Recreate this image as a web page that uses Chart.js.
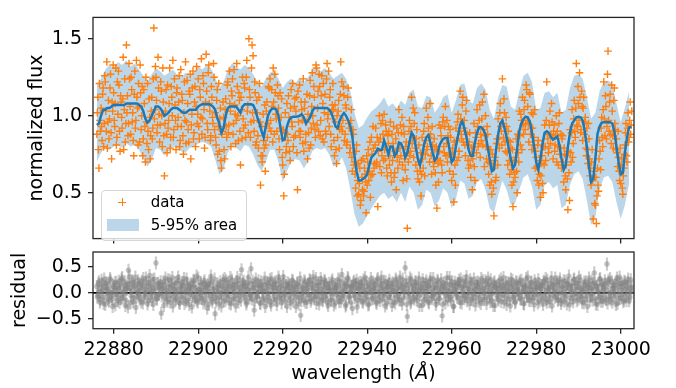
<!DOCTYPE html>
<html><head><meta charset="utf-8">
<script src="https://cdn.jsdelivr.net/npm/chart.js@4.4.0/dist/chart.umd.min.js"></script>
<style>
html,body{margin:0;padding:0;background:#fff;}
#wrap{position:relative;width:676px;height:388px;overflow:hidden;font-family:'DejaVu Sans';}
canvas{position:absolute;left:0;top:0;}
.lg{position:absolute;z-index:5;}
.txt{position:absolute;z-index:5;font-size:19px;line-height:22px;color:#000;white-space:nowrap;}
.ltxt{position:absolute;z-index:5;font-size:15px;line-height:18px;color:#000;white-space:nowrap;}
</style>
</head><body>
<div id="wrap">
<canvas id="top" width="676" height="256"></canvas>
<canvas id="bot" width="676" height="388"></canvas>
<div class="lg" style="left:100.5px;top:190px;width:146px;height:51px;box-sizing:border-box;border:1px solid #d6d6d6;border-radius:4px;background:rgba(255,255,255,0.8);"></div>
<div class="lg" style="left:118.3px;top:201.6px;width:8px;height:1.4px;background:#ff7f0e;"></div>
<div class="lg" style="left:121.6px;top:198.3px;width:1.4px;height:8px;background:#ff7f0e;"></div>
<div class="lg" style="left:106.7px;top:219.3px;width:32.3px;height:11.4px;background:rgba(31,119,180,0.3);"></div>
<div class="ltxt" style="left:150.7px;top:193px;">data</div>
<div class="ltxt" style="left:150.7px;top:216px;">5-95% area</div>
<div class="txt" style="left:93px;width:541px;text-align:center;top:361px;">wavelength (<i>Å</i>)</div>
</div>
<script>
// ---- data ----
const xMin = 22875.1, xMax = 23003.15;
const fluxMin = 0.2024, fluxMax = 1.639;
const resMin = -0.685, resMax = 0.78;
const wavelengthTicks = [22880, 22900, 22920, 22940, 22960, 22980, 23000];
const fluxTicks = [0.5, 1.0, 1.5];
const residualTicks = [-0.5, 0.0, 0.5];

const medianStart = 22876.0, medianStep = 0.5;
const medianFlux = [
0.94,0.95,1.00,1.04,1.04,1.05,1.05,1.06,1.07,1.07,
1.07,1.07,1.07,1.07,1.08,1.08,1.08,1.08,1.08,1.08,
1.07,1.06,1.03,0.98,0.955,0.97,1.00,1.03,1.06,1.06,
1.05,1.03,1.00,1.01,1.02,1.04,1.05,1.05,1.05,1.04,
1.03,1.02,1.02,1.03,1.04,1.04,1.04,1.04,1.06,1.07,
1.075,1.075,1.075,1.075,1.07,1.06,1.04,0.99,0.95,0.89,
0.92,1.00,1.05,1.06,1.06,1.06,1.06,1.04,1.02,1.06,
1.075,1.075,1.075,1.075,1.07,1.04,0.99,0.95,0.90,0.86,
0.93,1.00,1.03,1.048,1.048,1.04,1.00,0.92,0.84,0.85,
0.93,0.97,0.99,0.994,0.994,0.995,1.00,1.01,0.99,0.95,
0.97,0.99,1.03,1.05,1.05,1.05,1.05,1.05,1.05,1.05,
1.04,1.02,0.98,0.93,0.92,0.97,1.00,1.018,1.00,0.97,
0.935,0.86,0.74,0.64,0.58,0.58,0.59,0.60,0.62,0.68,
0.73,0.745,0.76,0.785,0.78,0.78,0.84,0.80,0.75,0.80,
0.80,0.74,0.76,0.826,0.82,0.79,0.73,0.76,0.83,0.89,
0.87,0.80,0.72,0.68,0.74,0.82,0.86,0.875,0.82,0.76,
0.71,0.73,0.80,0.83,0.85,0.855,0.855,0.78,0.70,0.72,
0.80,0.87,0.94,0.964,0.92,0.86,0.78,0.74,0.74,0.83,
0.89,0.925,0.925,0.91,0.88,0.80,0.72,0.64,0.65,0.78,
0.88,0.95,0.97,0.92,0.86,0.79,0.72,0.66,0.68,0.79,
0.90,0.95,0.98,0.994,0.99,0.96,0.89,0.80,0.70,0.65,
0.72,0.82,0.89,0.90,0.89,0.86,0.845,0.855,0.865,0.81,
0.72,0.65,0.68,0.80,0.89,0.95,0.97,0.99,0.994,0.99,
0.97,0.90,0.80,0.67,0.57,0.59,0.72,0.88,0.93,0.955,
0.958,0.958,0.958,0.958,0.95,0.90,0.80,0.70,0.62,0.63,
0.76,0.86,0.925,0.93];

const bandStart = 22876, bandStep = 1;
const bandUpper = [
1.20,1.24,1.30,1.33,1.31,1.35,1.33,1.36,1.32,1.34,
1.30,1.26,1.22,1.27,1.31,1.29,1.26,1.28,1.30,1.27,
1.25,1.28,1.26,1.29,1.32,1.30,1.33,1.31,1.25,1.18,
1.22,1.30,1.34,1.32,1.30,1.33,1.31,1.27,1.22,1.19,
1.24,1.28,1.29,1.24,1.18,1.22,1.24,1.21,1.25,1.22,
1.25,1.30,1.32,1.29,1.31,1.28,1.24,1.26,1.28,1.24,
1.16,1.02,0.92,0.94,0.99,1.03,1.05,1.08,1.12,1.06,
1.08,1.05,1.10,1.07,1.15,1.17,1.06,1.05,1.13,1.12,
1.02,1.06,1.12,1.14,1.02,1.10,1.20,1.21,1.10,1.08,
1.18,1.21,1.17,1.04,0.98,1.12,1.20,1.19,1.06,1.04,
1.16,1.26,1.28,1.22,1.04,1.05,1.15,1.16,1.12,1.15,
1.02,1.04,1.18,1.26,1.27,1.24,1.12,0.98,1.02,1.16,
1.22,1.23,1.21,1.08,0.96,1.05,1.16];
const bandLower = [
0.70,0.76,0.79,0.78,0.80,0.81,0.79,0.82,0.80,0.81,
0.78,0.72,0.67,0.71,0.79,0.78,0.74,0.77,0.80,0.79,
0.77,0.76,0.79,0.80,0.82,0.83,0.82,0.80,0.72,0.62,
0.65,0.76,0.80,0.79,0.77,0.81,0.80,0.75,0.68,0.64,
0.70,0.78,0.78,0.70,0.57,0.64,0.70,0.72,0.71,0.66,
0.70,0.77,0.79,0.78,0.79,0.75,0.67,0.68,0.73,0.66,
0.52,0.36,0.28,0.30,0.35,0.40,0.44,0.48,0.50,0.46,
0.48,0.44,0.50,0.44,0.54,0.50,0.39,0.42,0.52,0.50,
0.41,0.45,0.53,0.50,0.40,0.46,0.58,0.56,0.46,0.48,
0.57,0.59,0.52,0.40,0.37,0.48,0.58,0.52,0.42,0.43,
0.52,0.60,0.62,0.54,0.39,0.42,0.55,0.57,0.53,0.55,
0.40,0.42,0.55,0.62,0.64,0.59,0.45,0.29,0.34,0.52,
0.60,0.61,0.57,0.44,0.33,0.42,0.56];

// observed flux, two interleaved sets of samples (0.25 Å apart, offset by 0.125 Å)
const dataStart = 22876.0, dataStart2 = 22876.125, dataStep = 0.25;
const dataFlux = [
0.88,1.12,0.66,0.97, 1.05,0.84,1.18,0.95, 1.22,0.90,0.79,1.10, 0.98,1.27,0.72,1.03, 1.15,0.93,1.31,0.86,
1.01,1.20,0.77,1.09, 0.92,1.38,1.04,0.83, 1.46,1.13,0.95,1.24, 0.88,1.17,1.02,0.74, 1.29,0.97,1.12,0.81,
1.06,1.33,0.91,1.19, 0.85,1.08,0.70,0.96, 1.21,0.78,0.99,0.87, 1.12,0.92,1.57,1.04, 1.25,0.89,1.38,1.01,
0.94,1.16,0.80,1.09, 0.61,1.03,0.88,1.20, 0.97,1.31,0.86,1.12, 1.36,0.91,1.07,0.78, 1.18,0.99,1.26,0.84,
0.93,1.10,0.75,1.22, 1.35,0.96,1.08,0.83, 1.14,0.72,1.01,1.29, 0.89,1.19,1.06,0.95, 1.24,0.85,1.12,1.37,
0.98,1.21,0.79,1.09, 1.16,0.91,1.33,1.03, 0.87,1.12,0.95,1.25, 1.02,0.81,1.17,0.93, 0.77,1.05,0.66,0.90,
0.99,0.72,1.11,0.86, 1.22,0.94,1.08,0.80, 1.13,0.88,1.30,1.01, 0.97,1.19,0.84,1.10, 0.68,1.04,1.25,0.92,
1.18,0.86,1.36,1.07, 1.50,1.12,0.96,1.46, 1.39,0.90,1.15,0.83, 1.02,0.79,1.21,0.55, 0.93,0.74,0.84,1.07,
0.81,1.09,0.95,1.18, 1.24,0.90,1.06,1.31, 0.88,1.15,0.98,1.20, 1.05,0.78,0.92,1.11, 0.68,0.48,0.89,0.76,
1.08,0.84,0.99,0.71, 1.17,0.93,0.80,1.06, 0.87,1.12,0.52,0.96, 1.20,0.90,1.04,0.82, 0.77,1.09,0.88,1.14,
1.01,0.79,1.23,0.92, 1.28,0.95,1.12,0.86, 1.31,1.05,0.90,1.19, 0.97,1.26,1.08,0.83, 1.14,0.88,1.34,1.01,
0.93,1.17,0.80,1.07, 1.04,0.74,0.96,0.69, 0.86,1.10,0.91,1.35, 1.22,0.97,1.13,0.88, 1.05,0.83,1.18,0.92,
0.79,1.04,0.64,0.88, 0.70,0.53,0.81,0.58, 0.49,0.66,0.45,0.60, 0.72,0.51,0.62,0.37, 0.55,0.78,0.64,0.47,
0.86,0.62,0.79,0.69, 0.92,0.70,0.41,0.83, 0.67,0.95,0.74,0.88, 1.01,0.72,0.90,0.61, 0.82,0.68,0.96,0.57,
0.71,0.93,0.63,0.85, 0.92,0.66,1.04,0.79, 0.74,0.99,0.58,0.88, 0.65,0.83,0.27,0.70, 0.97,0.77,1.12,0.86,
0.73,1.02,0.68,0.91, 0.59,0.81,0.64,0.48, 0.86,0.66,0.95,0.75, 1.05,0.80,0.92,0.70, 0.88,0.62,0.81,0.67,
0.78,0.55,0.40,0.69, 0.94,0.71,0.87,0.63, 0.99,0.76,1.06,0.82, 0.70,0.93,0.64,0.86, 0.58,0.79,0.44,0.68,
0.92,0.71,1.01,0.77, 1.16,0.88,1.07,0.83, 0.97,0.74,1.10,0.81, 0.66,0.89,0.60,0.79, 0.72,0.95,0.58,0.86,
1.04,0.80,0.97,0.73, 0.84,1.09,0.91,0.67, 1.00,0.72,0.88,0.62, 0.55,0.78,0.49,0.66, 0.35,0.73,0.60,0.85,
0.98,0.79,1.08,0.90, 1.24,0.86,1.02,0.77, 0.93,0.68,0.84,0.62, 0.79,0.55,0.41,0.71, 0.60,0.85,0.50,0.76,
1.03,0.81,0.97,1.12, 0.88,1.10,0.95,1.17, 1.06,0.83,1.14,0.92, 0.78,1.01,0.86,0.66, 0.73,0.58,0.84,0.62,
0.47,0.69,0.56,0.80, 0.94,0.71,1.22,0.85, 0.79,1.03,0.88,0.96, 0.72,0.94,0.81,1.00, 0.90,0.68,1.02,0.79,
0.66,0.87,0.57,0.75, 0.52,0.74,0.39,0.63, 0.91,0.70,1.04,0.82, 1.10,0.86,1.34,0.93, 1.08,1.28,0.89,1.16,
0.84,1.12,0.96,0.79, 0.92,0.69,0.85,0.61, 0.55,0.78,0.33,0.60, 0.42,0.30,0.66,0.51, 0.84,0.65,0.99,0.80,
1.22,0.87,1.06,0.93, 1.42,0.90,1.14,0.82, 1.03,0.79,1.18,0.91, 0.85,0.67,0.73,0.58, 0.56,0.72,0.49,0.66,
0.81,0.95,0.70,1.02, 0.86,1.09,0.94];
const dataFlux2 = [
1.02,0.78,1.21,0.90, 0.93,1.14,0.80,1.26, 1.03,1.35,0.96,0.85, 1.18,0.89,1.09,1.33, 0.97,1.08,0.81,1.22,
1.29,0.90,1.13,0.99, 1.11,0.78,1.24,0.95, 1.02,0.87,1.34,1.06, 1.25,0.96,0.84,1.14, 0.92,1.36,1.05,1.21,
0.83,1.15,1.00,0.74, 1.17,0.93,1.25,0.82, 0.90,1.11,0.72,1.03, 0.85,1.24,0.98,1.32, 1.10,0.94,1.18,0.83,
1.22,1.00,1.31,0.87, 0.95,1.17,0.76,0.92, 1.08,0.79,1.19,1.00, 0.86,1.24,0.97,1.15, 0.93,1.09,0.80,1.30,
1.14,0.87,1.02,0.97, 0.82,1.23,0.91,1.16, 1.27,0.94,1.18,0.85, 1.09,0.80,1.32,1.01, 0.93,1.17,0.99,0.88,
1.26,1.04,0.86,1.40, 0.95,1.28,1.08,0.84, 1.19,0.99,1.34,0.91, 0.86,1.10,0.75,1.21, 0.98,0.71,0.88,1.09,
0.78,1.04,0.93,1.20, 0.89,1.29,1.03,1.16, 1.24,0.95,1.07,0.82, 1.34,1.00,1.15,0.90, 1.12,0.85,0.98,1.21,
0.94,1.25,1.03,0.89, 1.17,0.86,1.31,1.02, 0.97,1.22,0.81,1.10, 0.87,1.12,0.96,0.74, 0.70,1.01,0.79,0.64,
1.03,0.86,1.19,0.92, 0.97,1.17,0.83,1.09, 1.27,1.01,0.90,1.13, 0.85,1.15,0.99,0.73, 0.91,0.62,1.02,0.80,
0.88,1.13,0.77,1.05, 0.96,1.21,0.86,1.11, 1.03,0.76,1.16,0.90, 0.86,1.09,0.97,1.24, 1.05,0.83,0.96,0.72,
0.89,1.13,0.81,1.06, 1.00,1.19,0.91,1.33, 0.94,1.16,1.27,0.87, 1.13,0.85,1.21,1.02, 0.90,1.24,0.98,1.29,
1.12,0.88,1.03,1.21, 0.84,1.07,0.78,1.00, 1.03,0.79,1.14,0.93, 0.90,1.19,0.84,1.07, 0.81,1.12,0.95,0.76,
0.97,0.73,0.91,0.68, 0.62,0.77,0.48,0.69, 0.56,0.42,0.71,0.52, 0.48,0.66,0.57,0.74, 0.70,0.58,0.83,0.61,
0.75,0.93,0.66,0.81, 0.68,0.86,0.77,1.00, 0.85,0.63,0.97,0.71, 0.78,0.94,0.66,0.87, 0.90,0.74,0.63,0.88,
0.82,0.60,0.77,0.52, 0.73,0.89,0.70,0.94, 0.89,0.68,0.93,0.72, 0.80,0.59,0.76,0.90, 0.74,0.93,0.82,1.05,
0.95,0.79,0.85,0.64, 0.70,0.57,0.76,0.62, 0.72,0.90,0.61,0.84, 0.78,0.99,0.86,1.08, 0.74,0.93,0.70,0.85,
0.63,0.80,0.72,0.57, 0.77,0.92,0.68,0.96, 0.80,0.93,0.74,0.97, 0.87,0.75,0.91,0.73, 0.76,0.62,0.83,0.55,
0.84,0.96,0.73,0.90, 0.98,0.85,1.12,0.92, 0.81,1.03,0.88,0.71, 0.83,0.68,0.74,0.52, 0.80,0.67,0.89,0.76,
0.93,0.82,1.07,0.88, 0.98,0.81,1.14,0.87, 0.80,0.93,0.70,0.78, 0.69,0.57,0.75,0.53, 0.71,0.58,0.82,0.68,
0.85,1.02,0.93,0.81, 0.95,1.11,0.83,0.99, 0.76,0.90,0.71,0.83, 0.65,0.78,0.57,0.63, 0.73,0.64,0.88,0.70,
0.87,1.01,0.78,0.94, 1.04,0.91,1.20,0.97, 0.95,1.15,0.88,1.02, 0.92,0.81,1.04,0.77, 0.67,0.81,0.55,0.71,
0.61,0.74,0.50,0.68, 0.80,0.97,0.88,0.76, 0.94,0.82,1.08,0.86, 0.90,0.77,0.87,0.70, 0.80,0.95,0.75,0.88,
0.85,0.70,0.79,0.61, 0.68,0.59,0.77,0.45, 0.76,0.89,0.73,0.98, 0.90,1.05,0.94,1.19, 0.97,1.12,0.91,1.06,
1.05,0.88,0.99,0.74, 0.78,0.95,0.72,0.66, 0.70,0.58,0.64,0.43, 0.60,0.48,0.55,0.72, 0.77,0.92,0.86,1.04,
0.98,1.13,0.85,1.27, 0.97,1.09,0.88,1.20, 0.87,1.10,0.95,0.78, 0.76,0.90,0.64,0.79, 0.68,0.53,0.61,0.75,
0.89,0.74,0.92,0.83, 0.97,0.88,1.03];

const residuals = [
0.12,-0.05,0.21,-0.18,0.03,0.15,-0.09,0.26,-0.22,0.07,0.18,-0.13,0.01,0.24,-0.07,-0.26,0.11,0.19,-0.03,0.09,
-0.15,0.22,0.05,-0.11,0.29,-0.02,0.13,-0.24,0.08,0.17,0.43,0.31,-0.19,0.04,0.20,-0.10,0.14,-0.28,0.06,0.23,
-0.04,0.16,-0.17,0.10,0.27,-0.08,0.02,0.19,-0.21,0.12,0.33,0.05,-0.14,0.25,0.09,-0.05,0.57,-0.12,0.18,-0.02,
0.14,-0.39,0.07,0.21,-0.09,0.28,0.00,-0.16,0.11,0.24,-0.06,0.15,-0.25,0.08,0.19,-0.11,0.03,0.30,-0.18,0.10,
-0.07,0.20,0.13,-0.20,0.05,0.26,-0.13,0.09,-0.03,0.17,-0.27,0.12,0.22,-0.08,0.04,-0.15,0.28,0.06,-0.10,0.16,
0.01,-0.19,0.23,0.09,-0.05,0.14,-0.22,0.18,0.32,-0.12,0.07,-0.02,-0.40,-0.16,0.11,0.02,-0.09,0.21,-0.25,0.13,
0.06,0.27,-0.14,0.03,0.19,-0.07,0.12,-0.21,0.24,0.08,-0.11,0.16,-0.04,0.29,-0.18,0.10,0.01,0.44,0.15,0.22,
-0.08,0.13,-0.17,0.20,0.05,-0.03,0.46,-0.12,0.09,-0.33,0.17,0.02,-0.07,0.23,0.11,-0.20,0.14,0.04,-0.10,0.28,
0.07,-0.15,0.18,-0.01,0.25,-0.23,0.10,0.15,-0.06,0.21,-0.13,0.03,0.30,-0.09,0.12,-0.19,0.06,0.22,-0.04,0.14,
-0.26,0.09,0.17,-0.11,0.04,0.24,-0.16,0.11,0.01,-0.08,0.19,-0.21,0.13,-0.43,-0.05,0.07,-0.14,0.20,0.02,-0.18,
0.16,-0.03,0.23,-0.12,0.08,0.31,-0.07,0.14,-0.20,0.05,0.19,-0.10,0.27,0.00,-0.15,0.12,0.21,-0.06,0.09,-0.24,
0.18,0.04,-0.13,0.25,-0.02,0.10,-0.19,0.15,0.06,-0.09,0.22,-0.16,0.35,0.03,-0.05,0.17,-0.22,0.11,0.26,-0.08,
0.02,0.13,-0.30,0.19,-0.04,0.09,0.24,-0.14,0.07,-0.10,0.20,0.14,-0.18,0.05,0.29,-0.07,0.12,-0.23,0.16,0.01,
-0.12,0.21,0.08,-0.06,0.15,-0.20,0.27,0.03,-0.15,0.18,0.10,-0.03,0.22,-0.25,0.06,0.13,-0.09,0.24,-0.01,0.11,
0.19,-0.17,0.04,0.26,-0.08,0.12,-0.13,0.30,0.07,-0.21,0.15,0.01,0.48,0.22,-0.45,-0.06,0.17,-0.19,0.25,0.03,
-0.09,0.14,0.20,-0.14,0.06,0.28,-0.04,0.11,-0.24,0.18,0.02,-0.12,0.23,0.08,-0.17,0.13,0.27,-0.07,0.10,-0.02,
0.16,-0.22,0.09,0.21,-0.10,0.04,0.25,-0.44,0.12,0.00,-0.19,0.18,0.07,-0.05,0.29,-0.13,0.14,0.03,-0.26,0.20,
0.05,-0.08,0.17,0.24,-0.18,0.10,-0.03,0.22,-0.11,0.15,0.31,-0.06,0.08,-0.21,0.19,0.02,-0.14,0.26,0.06,-0.09,
0.13,0.20,-0.16,0.04,0.27,-0.12,0.09,-0.01,0.23,-0.20,0.11,0.16,-0.07,0.25,-0.15,0.07,0.18,-0.24,0.12,0.01,
-0.10,0.22,0.06,-0.17,0.14,0.29,-0.05,0.10,-0.22,0.19,0.03,-0.13,0.26,0.08,-0.08,0.15,-0.19,0.21,0.04,-0.03,
0.18,-0.11,0.24,0.02,-0.20,0.13,0.07,-0.06,0.30,-0.14,0.11,0.20,-0.09,0.05,-0.23,0.17,0.09,-0.02,0.25,-0.16,
0.08,0.14,-0.12,0.22,-0.04,0.27,-0.18,0.10,0.03,-0.09,0.19,-0.25,0.12,0.06,0.28,-0.07,0.16,-0.13,0.21,0.00,
-0.15,0.11,0.23,-0.05,0.09,-0.21,0.17,0.32,-0.10,0.04,0.14,-0.17,0.26,0.07,-0.02,0.19,-0.12,0.10,0.24,-0.08,
0.03,-0.19,0.15,0.21,-0.06,0.12,0.28,-0.14,0.08,-0.03,0.18,0.38,-0.11,0.13,-0.22,0.06,0.25,-0.07,0.16,-0.16,
0.10,0.23,-0.13,0.55,0.19,-0.09,0.27,0.01,-0.18,0.14,0.08,-0.04,0.22,-0.20,0.12,0.30,-0.10,0.17,0.04,-0.14,
0.20,-0.06,0.11,0.26,-0.15,0.09,0.02];
const residuals2 = [
-0.08,0.17,0.02,-0.13,0.24,0.06,-0.20,0.11,0.19,-0.04,0.08,-0.16,0.27,0.00,-0.11,0.14,0.05,-0.23,0.20,-0.06,
0.10,-0.18,0.15,0.26,-0.09,0.03,0.21,-0.14,0.07,-0.27,0.16,0.09,-0.05,0.23,-0.17,0.12,0.30,-0.08,0.01,0.18,
-0.12,0.06,0.22,-0.19,0.13,-0.02,0.28,0.04,-0.15,0.20,-0.07,0.15,0.02,-0.22,0.26,0.08,-0.10,0.17,-0.03,0.11,
0.21,-0.06,0.09,-0.24,0.16,0.05,-0.12,0.25,0.03,-0.18,0.12,0.29,-0.08,0.06,-0.14,0.19,-0.01,0.23,-0.20,0.07,
0.14,-0.10,0.27,0.01,-0.16,0.18,0.08,-0.22,0.13,0.04,-0.07,0.24,-0.13,0.10,0.32,-0.18,0.06,-0.02,0.20,-0.11,
0.05,0.19,-0.14,0.11,-0.29,0.16,0.02,-0.06,0.22,-0.17,0.09,0.26,-0.10,0.03,0.17,-0.21,0.13,0.00,-0.08,0.24,
-0.16,0.08,0.23,-0.05,0.12,-0.19,0.29,0.06,-0.12,0.15,0.01,-0.25,0.20,0.10,-0.07,0.25,-0.14,0.04,0.18,-0.03,
0.12,-0.21,0.07,0.30,-0.10,0.17,-0.04,0.22,0.09,-0.15,0.26,-0.08,0.14,0.02,-0.19,0.21,0.06,-0.12,0.16,-0.26,
0.03,0.20,-0.09,0.13,-0.18,0.27,0.05,-0.13,0.18,0.10,-0.22,0.08,0.24,-0.05,0.15,-0.11,0.31,0.00,-0.16,0.09,
0.19,-0.07,0.14,-0.20,0.06,0.22,-0.02,0.12,-0.26,0.17,0.04,-0.09,0.28,-0.15,0.11,0.01,0.23,-0.18,0.08,0.15,
-0.04,0.25,-0.16,0.09,0.18,-0.11,0.02,0.27,-0.06,0.14,-0.21,0.07,0.20,-0.13,0.05,0.24,-0.08,0.16,-0.19,0.10,
0.07,-0.14,0.21,0.04,-0.23,0.15,0.09,-0.03,0.26,-0.17,0.12,0.01,-0.10,0.19,0.06,-0.25,0.14,0.29,-0.07,0.11,
-0.18,0.12,0.03,0.22,-0.09,0.16,-0.27,0.08,0.19,-0.02,0.13,-0.16,0.25,0.05,-0.12,0.20,0.00,-0.21,0.10,0.27,
0.04,-0.11,0.18,0.09,-0.17,0.24,0.01,-0.08,0.14,0.30,-0.13,0.07,-0.04,0.21,-0.20,0.12,0.17,-0.09,0.05,-0.24,
0.16,0.02,-0.19,0.23,0.08,-0.05,0.19,-0.14,0.11,0.26,-0.10,0.04,0.15,-0.22,0.09,-0.01,0.28,-0.16,0.13,0.06,
-0.12,0.21,0.05,-0.08,0.17,-0.24,0.10,0.03,0.25,-0.15,0.08,0.18,-0.06,0.13,-0.19,0.22,0.02,-0.11,0.27,-0.03,
0.09,-0.17,0.24,0.00,-0.12,0.15,0.07,-0.22,0.19,0.11,-0.05,0.29,-0.14,0.04,0.16,-0.09,0.21,-0.26,0.06,0.13,
-0.02,0.18,-0.10,0.14,0.26,-0.19,0.03,0.12,-0.07,0.22,-0.15,0.09,0.01,0.25,-0.12,0.17,-0.04,0.08,-0.23,0.20,
0.11,-0.06,0.16,-0.20,0.07,0.23,-0.13,0.02,0.19,-0.09,0.28,0.05,-0.17,0.14,0.00,-0.24,0.21,0.10,-0.05,0.15,
-0.14,0.09,0.26,-0.04,0.13,-0.18,0.06,0.20,-0.11,0.03,0.17,-0.25,0.12,0.24,-0.08,0.05,-0.16,0.19,0.08,-0.01,
0.22,-0.12,0.04,0.15,-0.21,0.10,0.27,-0.07,0.13,0.01,-0.15,0.20,0.06,-0.10,0.23,-0.03,0.12,-0.19,0.16,0.09,
-0.06,0.14,-0.22,0.19,0.05,-0.13,0.24,0.08,-0.17,0.11,0.29,-0.04,0.16,-0.09,0.02,0.21,-0.14,0.07,0.26,-0.20,
0.13,0.01,-0.16,0.22,-0.05,0.17,0.09,-0.23,0.14,0.04,-0.10,0.25,-0.02,0.18,-0.15,0.11,0.30,-0.07,0.06,-0.18,
0.08,0.20,-0.12,0.03,-0.26,0.16,0.10,-0.05,0.23,-0.14,0.07,0.19,-0.21,0.12,0.02,-0.09,0.27,-0.16,0.14,0.05,
-0.10,0.17,0.06,-0.19,0.24,0.00,-0.13,0.21,0.09,-0.06,0.15,-0.22,0.28,0.04,-0.11,0.18,-0.03,0.12,-0.17,0.22,
0.07,-0.15,0.19,0.02,-0.09,0.25,0.11];
const residualErr = 0.12;

// ---- build points ----
const medianPts = medianFlux.map((v, i) => ({x: medianStart + i * medianStep, y: v}));
const upperPts = bandUpper.map((v, i) => ({x: bandStart + i * bandStep, y: v}));
const lowerPts = bandLower.map((v, i) => ({x: bandStart + i * bandStep, y: v}));
const dataPts = dataFlux.map((v, i) => ({x: dataStart + i * dataStep, y: v}))
  .concat(dataFlux2.map((v, i) => ({x: dataStart2 + i * dataStep, y: v})));
const resPts = residuals.map((v, i) => ({x: dataStart + i * dataStep, y: v}))
  .concat(residuals2.map((v, i) => ({x: dataStart2 + i * dataStep, y: v})));
const errPts = resPts.map(p => ({x: p.x, y: [p.y - residualErr, p.y + residualErr]}));

Chart.defaults.font.family = "'DejaVu Sans'";
Chart.defaults.font.size = 19;
Chart.defaults.color = '#000';

const SPINE = '#262626';
const frame = {
  id: 'frame',
  afterDatasetsDraw(chart) {
    const {ctx, chartArea: a} = chart;
    ctx.save();
    ctx.strokeStyle = SPINE;
    ctx.lineWidth = 1.3;
    ctx.strokeRect(a.left, a.top, a.right - a.left, a.bottom - a.top);
    ctx.restore();
  }
};
const tickGrid = {drawOnChartArea: false, drawTicks: true, tickLength: 5, color: SPINE, lineWidth: 1.3};
const setTicks = arr => s => { s.ticks = arr.map(v => ({value: v})); };

new Chart(document.getElementById('top'), {
  type: 'scatter',
  data: {datasets: [
    {type: 'line', label: 'low', data: lowerPts, showLine: true, borderColor: 'rgba(0,0,0,0)', borderWidth: 0, pointRadius: 0, fill: false, tension: 0, order: 3},
    {type: 'line', label: '5-95% area', data: upperPts, showLine: true, borderColor: 'rgba(0,0,0,0)', borderWidth: 0, pointRadius: 0, fill: '-1', backgroundColor: 'rgba(31,119,180,0.3)', tension: 0, order: 3},
    {label: 'data', data: dataPts, pointStyle: 'cross', pointRadius: 3.8, pointHoverRadius: 3.8, borderColor: '#ff7f0e', backgroundColor: '#ff7f0e', borderWidth: 1.4, order: 2},
    {type: 'line', label: 'median', data: medianPts, showLine: true, borderColor: '#1f77b4', borderWidth: 2.5, pointRadius: 0, fill: false, tension: 0, order: 1}
  ]},
  options: {
    responsive: false, animation: false, events: [],
    layout: {padding: {left: 0, right: 42, top: 7, bottom: 0}},
    plugins: {legend: {display: false}, tooltip: {enabled: false}},
    scales: {
      x: {type: 'linear', min: xMin, max: xMax, afterBuildTicks: setTicks(wavelengthTicks),
          ticks: {display: false}, grid: tickGrid, border: {display: false},
          afterFit: s => { s.height = 8; }},
      y: {type: 'linear', min: fluxMin, max: fluxMax, afterBuildTicks: setTicks(fluxTicks),
          ticks: {padding: 6, callback: v => v.toFixed(1)}, grid: tickGrid, border: {display: false},
          title: {display: true, text: 'normalized flux', padding: {top: 25.6, bottom: 0}},
          afterFit: s => { s.width = 93; }}
    }
  },
  plugins: [frame]
});

new Chart(document.getElementById('bot'), {
  type: 'scatter',
  data: {datasets: [
    {type: 'line', label: 'zero', data: [{x: xMin, y: 0}, {x: xMax, y: 0}], showLine: true, borderColor: '#000', borderWidth: 1.8, pointRadius: 0, fill: false, order: 3},
    {type: 'bar', label: 'err', data: errPts, backgroundColor: 'rgba(128,128,128,0.4)', borderWidth: 0, barThickness: 1.5, grouped: false, order: 2},
    {label: 'residual', data: resPts, pointStyle: 'circle', pointRadius: 2.7, pointHoverRadius: 2.7, backgroundColor: 'rgba(128,128,128,0.45)', borderWidth: 0, order: 1}
  ]},
  options: {
    responsive: false, animation: false, events: [],
    layout: {padding: {left: 0, right: 42, top: 252, bottom: 0}},
    plugins: {legend: {display: false}, tooltip: {enabled: false}},
    scales: {
      x: {type: 'linear', min: xMin, max: xMax, offset: false, afterBuildTicks: setTicks(wavelengthTicks),
          ticks: {padding: 5, maxRotation: 0, autoSkip: false, callback: v => String(v)},
          grid: Object.assign({}, tickGrid, {offset: false}), border: {display: false},
          afterFit: s => { s.height = 59.3; }},
      y: {type: 'linear', min: resMin, max: resMax, afterBuildTicks: setTicks(residualTicks),
          ticks: {padding: 6, callback: v => (v < 0 ? '\u2212' : '') + Math.abs(v).toFixed(1)},
          grid: tickGrid, border: {display: false},
          title: {display: true, text: 'residual', padding: {top: 8.6, bottom: 0}},
          afterFit: s => { s.width = 93; }}
    }
  },
  plugins: [frame]
});
</script>
</body></html>
